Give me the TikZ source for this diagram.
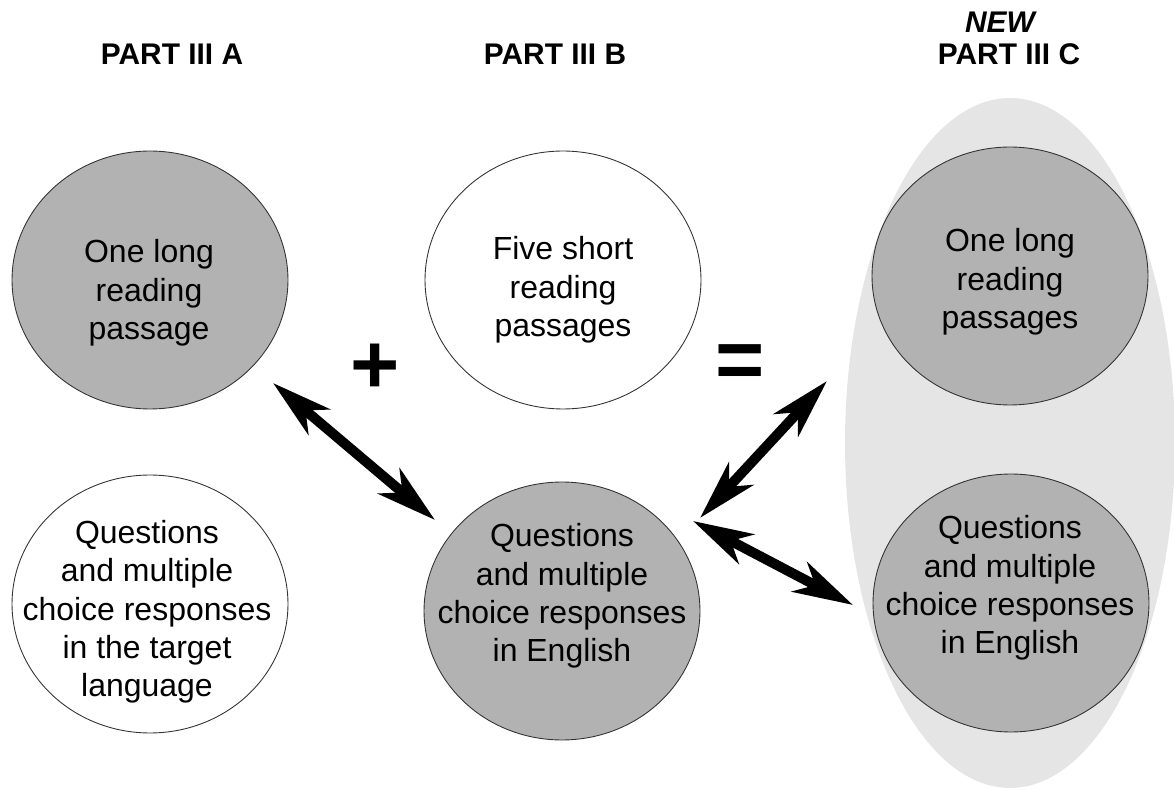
\documentclass[tikz,border=0pt]{standalone}
\usepackage{fontspec}
\setmainfont{Liberation Sans}
\usetikzlibrary{arrows.meta,positioning,shapes.geometric}

\begin{document}
\begin{tikzpicture}[x=0.02cm,y=-0.02cm,
  bubble/.style={ellipse,draw=black!80,line width=.5pt,minimum width=5.52cm,minimum height=5.16cm,inner sep=0pt},
  dark/.style={bubble,fill=black!30},
  light/.style={bubble,fill=white},
  txt/.style={align=center,font=\fontsize{18.2}{21.8}\selectfont},
  head/.style={align=center,font=\fontsize{17}{18.5}\selectfont\bfseries},
  sym/.style={inner sep=0pt,font=\fontsize{48}{50}\selectfont\bfseries},
  dbl/.style={{Stealth[length=1.2cm,width=.66cm,inset=.35cm]}-{Stealth[length=1.2cm,width=.66cm,inset=.35cm]},line width=.2cm}]
\useasboundingbox (0,0) rectangle (1174,790);
% new part: light backdrop
\node[ellipse,fill=black!10,minimum width=6.6cm,minimum height=13.8cm,inner sep=0pt] (cback) at (1010,443) {};
\node[head] (tA) at (172,54) {PART III A};
\node[head] (tB) at (555,54) {PART III B};
\node[head] (tC) at (1009,54) {PART III C};
\node[head] (tnew) at (1000,22) {\itshape NEW};
% bubbles
\node[dark] (a1) at (150,280) {};
\node[txt] (a1t) at (149,293) {One long\\reading\\passage};
\node[light] (a2) at (150,604) {};
\node[txt] (a2t) at (147,612) {Questions\\and multiple\\choice responses\\in the target\\language};
\node[light] (b1) at (563,280) {};
\node[txt] (b1t) at (563,290) {Five short\\reading\\passages};
\node[dark] (b2) at (562,611) {};
\node[txt] (b2t) at (562,596) {Questions\\and multiple\\choice responses\\in English};
\node[dark] (c1) at (1010,276) {};
\node[txt] (c1t) at (1010,282) {One long\\reading\\passages};
\node[dark] (c2) at (1011,603) {};
\node[txt] (c2t) at (1010,588) {Questions\\and multiple\\choice responses\\in English};
\node[sym] (plus) at (375,369) {+};
\node[sym] (eq) at (740,367) {=};
% arrows
\coordinate (a1end) at (273,383);
\coordinate (b2endA) at (435,520);
\coordinate (b2endC) at (700,518);
\coordinate (b2endD) at (693,521);
\coordinate (c1end) at (827,381);
\coordinate (c2end) at (853,605);
\draw[dbl] (a1end) -- (b2endA);
\draw[dbl] (b2endC) -- (c1end);
\draw[dbl] (b2endD) -- (c2end);
\end{tikzpicture}
\end{document}
